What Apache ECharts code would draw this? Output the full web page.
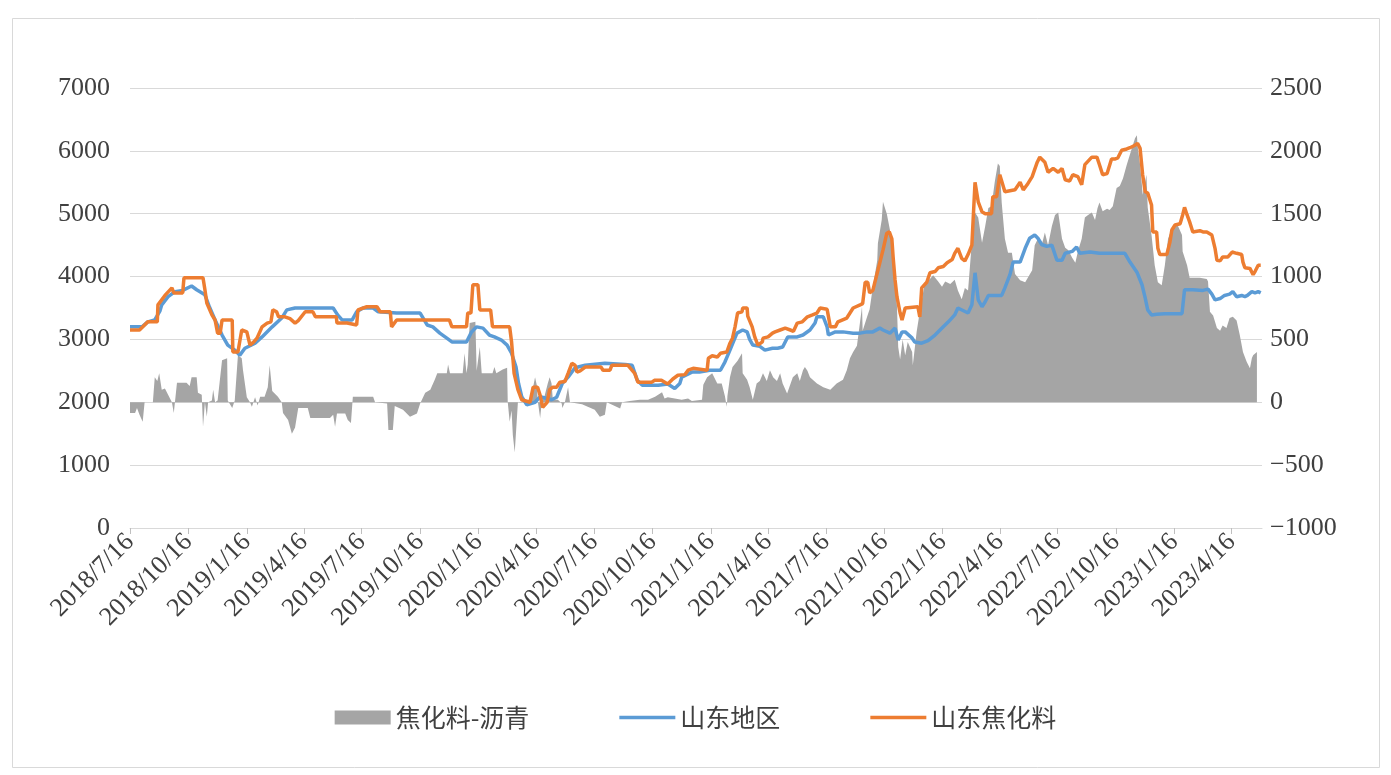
<!DOCTYPE html>
<html>
<head>
<meta charset="utf-8">
<title>山东焦化料价差</title>
<script src="https://cdn.jsdelivr.net/npm/echarts@6/dist/echarts.min.js"></script>
<style>
  html, body { margin: 0; padding: 0; background: #fff; }
  #chart { width: 1391px; height: 775px; }
</style>
</head>
<body>
<div id="chart"></div>
<script>
// x轴刻度（每季度）
var tickLabels = ['2018/7/16', '2018/10/16', '2019/1/16', '2019/4/16', '2019/7/16', '2019/10/16',
    '2020/1/16', '2020/4/16', '2020/7/16', '2020/10/16', '2021/1/16', '2021/4/16', '2021/7/16',
    '2021/10/16', '2022/1/16', '2022/4/16', '2022/7/16', '2022/10/16', '2023/1/16', '2023/4/16'];

// 焦化料-沥青 价差（右轴）
var spreadDates = ['2018-07-16','2018-07-24','2018-07-27','2018-07-31','2018-08-05','2018-08-08','2018-08-21','2018-08-24','2018-08-28','2018-08-31',
    '2018-09-04','2018-09-09','2018-09-14','2018-09-20','2018-09-23','2018-09-28','2018-10-13','2018-10-18','2018-10-21','2018-10-29',
    '2018-10-31','2018-11-06','2018-11-08','2018-11-11','2018-11-14','2018-11-16','2018-11-22','2018-11-24','2018-11-27','2018-12-01',
    '2018-12-08','2018-12-16','2018-12-17','2018-12-24','2018-12-28','2019-01-02','2019-01-08','2019-01-10','2019-01-16','2019-01-21',
    '2019-01-24','2019-01-29','2019-02-02','2019-02-06','2019-02-13','2019-02-18','2019-02-21','2019-02-25','2019-03-06','2019-03-12',
    '2019-03-14','2019-03-22','2019-03-28','2019-04-02','2019-04-07','2019-04-22','2019-04-26','2019-05-27','2019-06-01','2019-06-04',
    '2019-06-07','2019-06-20','2019-06-24','2019-06-29','2019-07-02','2019-08-03','2019-08-06','2019-08-25','2019-08-27','2019-09-03',
    '2019-09-06','2019-09-19','2019-09-30','2019-10-11','2019-10-16','2019-10-24','2019-11-01','2019-11-08','2019-11-12','2019-11-27',
    '2019-11-29','2019-12-02','2019-12-22','2019-12-25','2019-12-28','2019-12-30','2020-01-02','2020-01-11','2020-01-13','2020-01-18',
    '2020-01-21','2020-02-07','2020-02-10','2020-02-13','2020-02-23','2020-03-01','2020-03-02','2020-03-05','2020-03-08','2020-03-10',
    '2020-03-13','2020-03-16','2020-03-18','2020-04-03','2020-04-09','2020-04-14','2020-04-17','2020-04-18','2020-04-22','2020-04-25',
    '2020-04-29','2020-05-04','2020-05-07','2020-05-10','2020-05-12','2020-05-20','2020-05-26','2020-05-27','2020-05-31','2020-06-05',
    '2020-06-08','2020-06-27','2020-07-06','2020-07-17','2020-07-25','2020-08-02','2020-08-05','2020-08-26','2020-08-29','2020-09-10',
    '2020-09-26','2020-10-09','2020-10-20','2020-10-31','2020-11-04','2020-11-09','2020-11-20','2020-12-01','2020-12-11','2020-12-17',
    '2021-01-02','2021-01-04','2021-01-10','2021-01-18','2021-01-26','2021-02-02','2021-02-07','2021-02-10','2021-02-11','2021-02-15',
    '2021-02-19','2021-02-27','2021-03-06','2021-03-07','2021-03-14','2021-03-18','2021-03-23','2021-03-29','2021-04-03','2021-04-08',
    '2021-04-14','2021-04-19','2021-04-24','2021-04-30','2021-05-05','2021-05-09','2021-05-16','2021-05-25','2021-06-01','2021-06-05',
    '2021-06-10','2021-06-13','2021-06-17','2021-06-21','2021-07-02','2021-07-12','2021-07-23','2021-08-02','2021-08-12','2021-08-18',
    '2021-08-23','2021-08-28','2021-09-03','2021-09-11','2021-09-12','2021-09-19','2021-09-23','2021-09-28','2021-10-05','2021-10-06',
    '2021-10-12','2021-10-14','2021-10-17','2021-10-20','2021-10-25','2021-10-30','2021-11-05','2021-11-07','2021-11-10','2021-11-14',
    '2021-11-18','2021-11-22','2021-11-29','2021-11-30','2021-12-06','2021-12-11','2021-12-19','2021-12-27','2022-01-01','2022-01-09',
    '2022-01-15','2022-01-20','2022-01-28','2022-02-04','2022-02-09','2022-02-15','2022-02-20','2022-02-25','2022-03-03','2022-03-08',
    '2022-03-13','2022-03-19','2022-03-24','2022-03-29','2022-04-03','2022-04-08','2022-04-13','2022-04-16','2022-04-19','2022-04-24',
    '2022-04-29','2022-05-05','2022-05-10','2022-05-18','2022-05-26','2022-06-06','2022-06-10','2022-06-15','2022-06-21','2022-06-26',
    '2022-07-01','2022-07-07','2022-07-12','2022-07-17','2022-07-23','2022-07-28','2022-08-02','2022-08-08','2022-08-13','2022-08-17',
    '2022-08-23','2022-08-28','2022-09-02','2022-09-08','2022-09-13','2022-09-17','2022-09-20','2022-09-25','2022-10-02','2022-10-06',
    '2022-10-11','2022-10-17','2022-10-22','2022-10-27','2022-11-02','2022-11-10','2022-11-15','2022-11-18','2022-11-19','2022-11-23',
    '2022-11-26','2022-11-27','2022-12-03','2022-12-05','2022-12-11','2022-12-16','2022-12-21','2022-12-27','2023-01-01','2023-01-06',
    '2023-01-12','2023-01-17','2023-01-21','2023-01-28','2023-01-29','2023-02-05','2023-02-09','2023-02-25','2023-03-08','2023-03-10',
    '2023-03-13','2023-03-18','2023-03-24','2023-03-29','2023-04-02','2023-04-08','2023-04-13','2023-04-18','2023-04-24','2023-04-29',
    '2023-05-04','2023-05-10','2023-05-15','2023-05-18','2023-05-20','2023-05-26'];
var spreadValues = [-85,-85,-45,-100,-155,0,0,200,170,230,
    100,110,60,0,-85,155,155,130,200,200,
    75,60,-195,0,-115,0,15,100,0,15,
    335,350,15,-45,15,375,350,255,40,0,
    -35,40,-25,45,45,120,295,90,45,0,
    -85,-140,-250,-200,-45,-45,-125,-125,-100,-195,
    -90,-90,-140,-165,45,45,0,-10,-220,-220,
    -30,-60,-115,-90,-10,75,100,180,230,230,
    300,230,230,390,230,300,630,640,250,440,
    230,230,280,230,260,275,0,-155,-65,-260,
    -400,-410,0,10,70,200,130,20,-125,20,
    50,150,200,150,20,20,-10,-45,0,120,
    0,-15,-35,-60,-115,-100,0,-50,0,10,
    20,20,45,80,30,40,30,20,30,10,
    20,140,200,230,150,150,50,-35,50,200,
    280,330,390,230,180,120,20,150,170,230,
    170,255,200,170,230,150,70,200,230,170,
    255,280,250,200,150,120,100,150,180,255,
    350,400,450,760,570,680,740,915,1130,1265,
    1450,1595,1600,1500,1370,1130,770,440,340,500,
    375,480,400,295,560,720,955,980,1010,960,
    920,960,940,975,890,820,910,890,1275,1510,
    1470,1270,1400,1545,1560,1750,1900,1880,1590,1300,
    1190,1190,1020,970,955,1050,1250,1300,1250,1350,
    1250,1400,1490,1510,1300,1230,1210,1150,1110,1200,
    1300,1470,1490,1510,1450,1545,1590,1520,1540,1530,
    1560,1705,1720,1780,1890,2020,2100,2125,2040,1890,
    1720,1650,1810,1550,1330,1090,955,930,1090,1300,
    1385,1410,1410,1330,1200,1090,990,990,980,960,
    720,690,590,570,610,590,670,680,650,535,
    400,320,270,350,375,400];

// 山东地区（左轴）
var regionDates = ['2018-07-16','2018-08-04','2018-08-13','2018-08-24','2018-09-01','2018-09-04','2018-09-14','2018-09-25','2018-10-07','2018-10-21',
    '2018-10-29','2018-11-11','2018-11-18','2018-11-27','2018-12-08','2018-12-17','2018-12-28','2019-01-05','2019-01-13','2019-01-29',
    '2019-02-09','2019-02-25','2019-03-12','2019-03-20','2019-04-02','2019-06-01','2019-06-08','2019-06-15','2019-07-01','2019-07-08',
    '2019-07-18','2019-08-03','2019-08-11','2019-09-09','2019-10-16','2019-10-27','2019-11-05','2019-11-16','2019-11-27','2019-12-05',
    '2019-12-28','2020-01-05','2020-01-13','2020-01-23','2020-02-02','2020-02-10','2020-02-21','2020-03-01','2020-03-08','2020-03-15',
    '2020-03-19','2020-03-24','2020-04-01','2020-04-14','2020-04-22','2020-05-03','2020-05-10','2020-05-18','2020-05-27','2020-06-05',
    '2020-06-16','2020-07-02','2020-08-02','2020-09-03','2020-09-14','2020-09-22','2020-09-30','2020-10-25','2020-11-09','2020-11-20',
    '2020-11-28','2020-12-01','2020-12-17','2020-12-29','2021-01-14','2021-01-31','2021-02-07','2021-02-15','2021-02-26','2021-03-07',
    '2021-03-14','2021-03-18','2021-03-23','2021-04-03','2021-04-11','2021-04-23','2021-05-01','2021-05-09','2021-05-17','2021-06-01',
    '2021-06-10','2021-06-21','2021-06-29','2021-07-02','2021-07-12','2021-07-18','2021-07-20','2021-07-31','2021-08-12','2021-08-28',
    '2021-09-08','2021-09-19','2021-09-28','2021-10-09','2021-10-14','2021-10-25','2021-11-02','2021-11-07','2021-11-13','2021-11-18',
    '2021-11-29','2021-12-03','2021-12-14','2021-12-24','2022-01-04','2022-01-15','2022-01-25','2022-02-04','2022-02-09','2022-02-17',
    '2022-02-25','2022-03-03','2022-03-08','2022-03-13','2022-03-19','2022-03-24','2022-03-29','2022-04-19','2022-04-24','2022-05-02',
    '2022-05-07','2022-05-18','2022-05-26','2022-06-02','2022-06-10','2022-06-15','2022-06-21','2022-06-29','2022-07-07','2022-07-15',
    '2022-07-23','2022-07-28','2022-08-08','2022-08-15','2022-08-20','2022-09-05','2022-09-20','2022-10-30','2022-11-07','2022-11-18',
    '2022-11-26','2022-12-01','2022-12-05','2022-12-11','2022-12-19','2023-01-01','2023-01-28','2023-02-01','2023-02-14','2023-03-02',
    '2023-03-10','2023-03-16','2023-03-21','2023-03-29','2023-04-05','2023-04-13','2023-04-18','2023-04-24','2023-05-02','2023-05-07',
    '2023-05-11','2023-05-18','2023-05-23','2023-05-28','2023-06-01'];
var regionValues = [3200,3200,3280,3310,3450,3550,3680,3760,3780,3850,
    3790,3710,3520,3310,3070,2910,2830,2750,2860,2940,
    3040,3200,3340,3470,3500,3500,3390,3310,3310,3440,
    3500,3500,3440,3420,3420,3230,3200,3100,3020,2960,
    2960,3120,3200,3180,3070,3040,2990,2910,2780,2560,
    2300,2090,1960,2000,2090,2060,2040,2080,2300,2400,
    2550,2590,2620,2600,2590,2350,2270,2270,2290,2220,
    2300,2400,2480,2480,2510,2510,2640,2830,3100,3150,
    3120,3000,2910,2890,2830,2860,2860,2880,3040,3040,
    3070,3150,3260,3360,3360,3200,3070,3120,3120,3100,
    3100,3120,3120,3180,3150,3100,3180,2990,3120,3120,
    3020,2960,2940,2980,3070,3180,3280,3390,3500,3460,
    3420,3550,4060,3630,3520,3600,3700,3700,3820,4030,
    4230,4230,4450,4610,4660,4610,4510,4480,4500,4260,
    4260,4370,4400,4470,4370,4390,4370,4370,4230,4070,
    3870,3660,3470,3390,3400,3410,3410,3790,3790,3780,
    3800,3720,3630,3650,3700,3720,3760,3680,3700,3680,
    3700,3760,3740,3760,3740];

// 山东焦化料（左轴）
var cokeDates = ['2018-07-16','2018-07-31','2018-08-02','2018-08-13','2018-08-28','2018-08-29','2018-09-09','2018-09-20','2018-09-23','2018-10-07',
    '2018-10-09','2018-11-08','2018-11-11','2018-11-14','2018-11-22','2018-11-27','2018-12-01','2018-12-05','2018-12-08','2018-12-24',
    '2018-12-25','2019-01-02','2019-01-08','2019-01-16','2019-01-21','2019-01-27','2019-02-01','2019-02-09','2019-02-17','2019-02-23',
    '2019-02-26','2019-03-04','2019-03-07','2019-03-17','2019-03-25','2019-04-02','2019-04-07','2019-04-18','2019-04-30','2019-05-04',
    '2019-06-06','2019-06-07','2019-06-23','2019-06-24','2019-07-08','2019-07-10','2019-07-24','2019-08-09','2019-08-14','2019-08-30',
    '2019-09-01','2019-09-09','2019-12-01','2019-12-05','2019-12-28','2019-12-30','2020-01-04','2020-01-07','2020-01-15','2020-01-18',
    '2020-02-04','2020-02-07','2020-03-05','2020-03-08','2020-03-12','2020-03-18','2020-03-24','2020-04-06','2020-04-11','2020-04-18',
    '2020-04-22','2020-04-26','2020-04-29','2020-05-03','2020-05-07','2020-05-12','2020-05-18','2020-05-23','2020-05-31','2020-06-05',
    '2020-06-11','2020-06-16','2020-06-19','2020-06-24','2020-07-02','2020-07-27','2020-07-30','2020-08-10','2020-08-13','2020-09-07',
    '2020-09-18','2020-09-23','2020-10-15','2020-10-19','2020-10-30','2020-11-09','2020-11-17','2020-11-25','2020-12-06','2020-12-11',
    '2020-12-19','2021-01-10','2021-01-12','2021-01-18','2021-01-26','2021-01-31','2021-02-10','2021-02-15','2021-02-19','2021-02-23',
    '2021-02-27','2021-03-06','2021-03-07','2021-03-14','2021-03-15','2021-03-22','2021-03-26','2021-03-31','2021-04-07','2021-04-08',
    '2021-04-16','2021-04-23','2021-04-27','2021-05-05','2021-05-13','2021-05-21','2021-05-26','2021-06-01','2021-06-09','2021-06-17',
    '2021-06-25','2021-07-02','2021-07-07','2021-07-18','2021-07-20','2021-07-23','2021-07-31','2021-08-04','2021-08-18','2021-08-23',
    '2021-08-28','2021-09-08','2021-09-12','2021-09-16','2021-09-20','2021-09-23','2021-09-28','2021-10-05','2021-10-09','2021-10-14',
    '2021-10-20','2021-10-24','2021-10-28','2021-10-30','2021-11-02','2021-11-05','2021-11-10','2021-11-13','2021-11-18','2021-12-08',
    '2021-12-11','2021-12-14','2021-12-22','2021-12-27','2022-01-04','2022-01-09','2022-01-17','2022-01-23','2022-01-31','2022-02-04',
    '2022-02-09','2022-02-15','2022-02-20','2022-02-25','2022-03-03','2022-03-08','2022-03-13','2022-03-19','2022-03-24','2022-04-03',
    '2022-04-05','2022-04-11','2022-04-16','2022-04-19','2022-04-24','2022-05-10','2022-05-18','2022-05-23','2022-05-29','2022-06-06',
    '2022-06-14','2022-06-18','2022-06-26','2022-07-01','2022-07-09','2022-07-17','2022-07-23','2022-07-28','2022-08-04','2022-08-09',
    '2022-08-17','2022-08-23','2022-08-28','2022-09-08','2022-09-16','2022-09-20','2022-09-25','2022-10-02','2022-10-09','2022-10-14',
    '2022-10-19','2022-10-25','2022-11-02','2022-11-07','2022-11-15','2022-11-19','2022-11-23','2022-11-27','2022-12-01','2022-12-05',
    '2022-12-11','2022-12-13','2022-12-19','2022-12-21','2022-12-24','2023-01-04','2023-01-09','2023-01-12','2023-01-17','2023-01-25',
    '2023-01-29','2023-02-01','2023-02-05','2023-02-09','2023-02-14','2023-02-25','2023-03-02','2023-03-08','2023-03-16','2023-03-21',
    '2023-03-24','2023-03-29','2023-04-02','2023-04-10','2023-04-17','2023-04-24','2023-05-02','2023-05-04','2023-05-07','2023-05-15',
    '2023-05-20','2023-05-23','2023-05-28','2023-06-01'];
var cokeValues = [3150,3150,3180,3280,3280,3550,3700,3820,3740,3740,
    3980,3980,3790,3580,3390,3310,3100,3100,3310,3310,
    2800,2800,3150,3120,2910,2960,3020,3200,3260,3280,
    3470,3440,3360,3360,3330,3260,3300,3440,3440,3360,
    3360,3260,3260,3230,3230,3470,3520,3520,3440,3440,
    3200,3310,3310,3200,3200,3420,3420,3870,3870,3470,
    3470,3200,3200,2960,2460,2200,2040,2000,2240,2240,
    2110,1920,1900,2000,2200,2240,2240,2320,2330,2460,
    2620,2590,2480,2500,2560,2560,2510,2510,2590,2590,
    2460,2320,2320,2350,2350,2290,2370,2430,2440,2510,
    2540,2510,2700,2740,2720,2780,2800,2940,3020,3200,
    3420,3440,3500,3500,3370,3200,3040,2910,2960,3020,
    3040,3100,3120,3150,3180,3150,3130,3260,3280,3360,
    3390,3420,3500,3480,3370,3200,3200,3280,3340,3420,
    3500,3550,3570,3910,3910,3740,3780,4060,4220,4420,
    4690,4710,4600,4310,3950,3680,3420,3310,3500,3520,
    3360,3820,3910,4060,4080,4140,4160,4220,4270,4370,
    4450,4290,4250,4350,4500,5500,5190,5030,5000,5000,
    5270,5270,5620,5620,5350,5380,5500,5380,5460,5590,
    5820,5900,5820,5660,5720,5660,5720,5540,5520,5620,
    5590,5460,5780,5900,5900,5780,5620,5640,5870,5870,
    5890,6010,6030,6050,6090,6120,6040,5620,5350,5330,
    5140,4710,4710,4450,4350,4350,4550,4740,4820,4840,
    4980,5100,4980,4870,4710,4730,4710,4710,4660,4450,
    4260,4250,4310,4310,4390,4370,4350,4230,4140,4130,
    4030,4080,4180,4180];

function toTime(s) {
    var p = s.split(/[-\/]/).map(Number);
    return new Date(p[0], p[1] - 1, p[2]).getTime();
}

function pairs(dates, values) {
    return dates.map(function (d, i) { return [toTime(d), values[i]]; });
}

function fmtDate(val) {
    var d = new Date(val);
    return d.getFullYear() + '/' + (d.getMonth() + 1) + '/' + d.getDate();
}

var tickValues = tickLabels.map(toTime);
var labelFont = 'Liberation Serif';
var textColor = '#404040';
// 图例里的细线图标
var lineIcon = 'path://M0,0H56V3.5H0Z';

var myChart = echarts.init(document.getElementById('chart'));
var option = {
    animation: false,
    backgroundColor: '#fff',
    graphic: [{
        type: 'rect',
        silent: true,
        shape: { x: 12.5, y: 18.5, width: 1367, height: 749 },
        style: { fill: 'none', stroke: '#D9D9D9', lineWidth: 1 }
    }],
    grid: { left: 130, right: 129, top: 88, bottom: 247 },
    legend: {
        top: 700,
        left: 'center',
        itemWidth: 56,
        itemHeight: 14,
        itemGap: 90,
        symbolKeepAspect: true,
        textStyle: { fontFamily: 'Noto Sans CJK SC', fontSize: 25, color: textColor },
        data: [
            { name: '焦化料-沥青', icon: 'rect' },
            { name: '山东地区', icon: lineIcon },
            { name: '山东焦化料', icon: lineIcon }
        ]
    },
    // 日期轴：数值为时间戳，刻度固定在每季度16日
    xAxis: {
        type: 'value',
        min: toTime('2018-07-16'),
        max: toTime('2023-06-03'),
        splitLine: { show: false },
        axisLine: { lineStyle: { color: '#D9D9D9', width: 1 } },
        axisTick: { show: true, customValues: tickValues, length: 6, lineStyle: { color: '#BFBFBF' } },
        axisLabel: {
            customValues: tickValues,
            rotate: 45,
            margin: 10,
            fontFamily: labelFont,
            fontSize: 26,
            color: textColor,
            formatter: fmtDate
        }
    },
    yAxis: [{
        type: 'value',
        min: 0,
        max: 7000,
        interval: 1000,
        axisLine: { show: false },
        axisTick: { show: false },
        splitLine: { lineStyle: { color: '#D9D9D9', width: 1 } },
        axisLabel: {
            margin: 20, fontFamily: labelFont, fontSize: 26, color: textColor,
            formatter: function (v) { return String(v); }
        }
    }, {
        type: 'value',
        min: -1000,
        max: 2500,
        interval: 500,
        axisLine: { show: false },
        axisTick: { show: false },
        splitLine: { show: false },
        axisLabel: {
            margin: 8, fontFamily: labelFont, fontSize: 26, color: textColor,
            formatter: function (v) { return String(v).replace('-', '\u2212'); }
        }
    }],
    series: [{
        name: '焦化料-沥青',
        type: 'line',
        yAxisIndex: 1,
        symbol: 'none',
        data: pairs(spreadDates, spreadValues),
        lineStyle: { width: 0, color: '#A5A5A5' },
        itemStyle: { color: '#A5A5A5' },
        areaStyle: { color: '#A5A5A5', opacity: 1 }
    }, {
        name: '山东地区',
        type: 'line',
        symbol: 'none',
        data: pairs(regionDates, regionValues),
        lineStyle: { width: 3.5, color: '#5B9BD5' },
        itemStyle: { color: '#5B9BD5' }
    }, {
        name: '山东焦化料',
        type: 'line',
        symbol: 'none',
        data: pairs(cokeDates, cokeValues),
        lineStyle: { width: 3.5, color: '#ED7D31' },
        itemStyle: { color: '#ED7D31' }
    }]
};
myChart.setOption(option);
</script>
</body>
</html>
